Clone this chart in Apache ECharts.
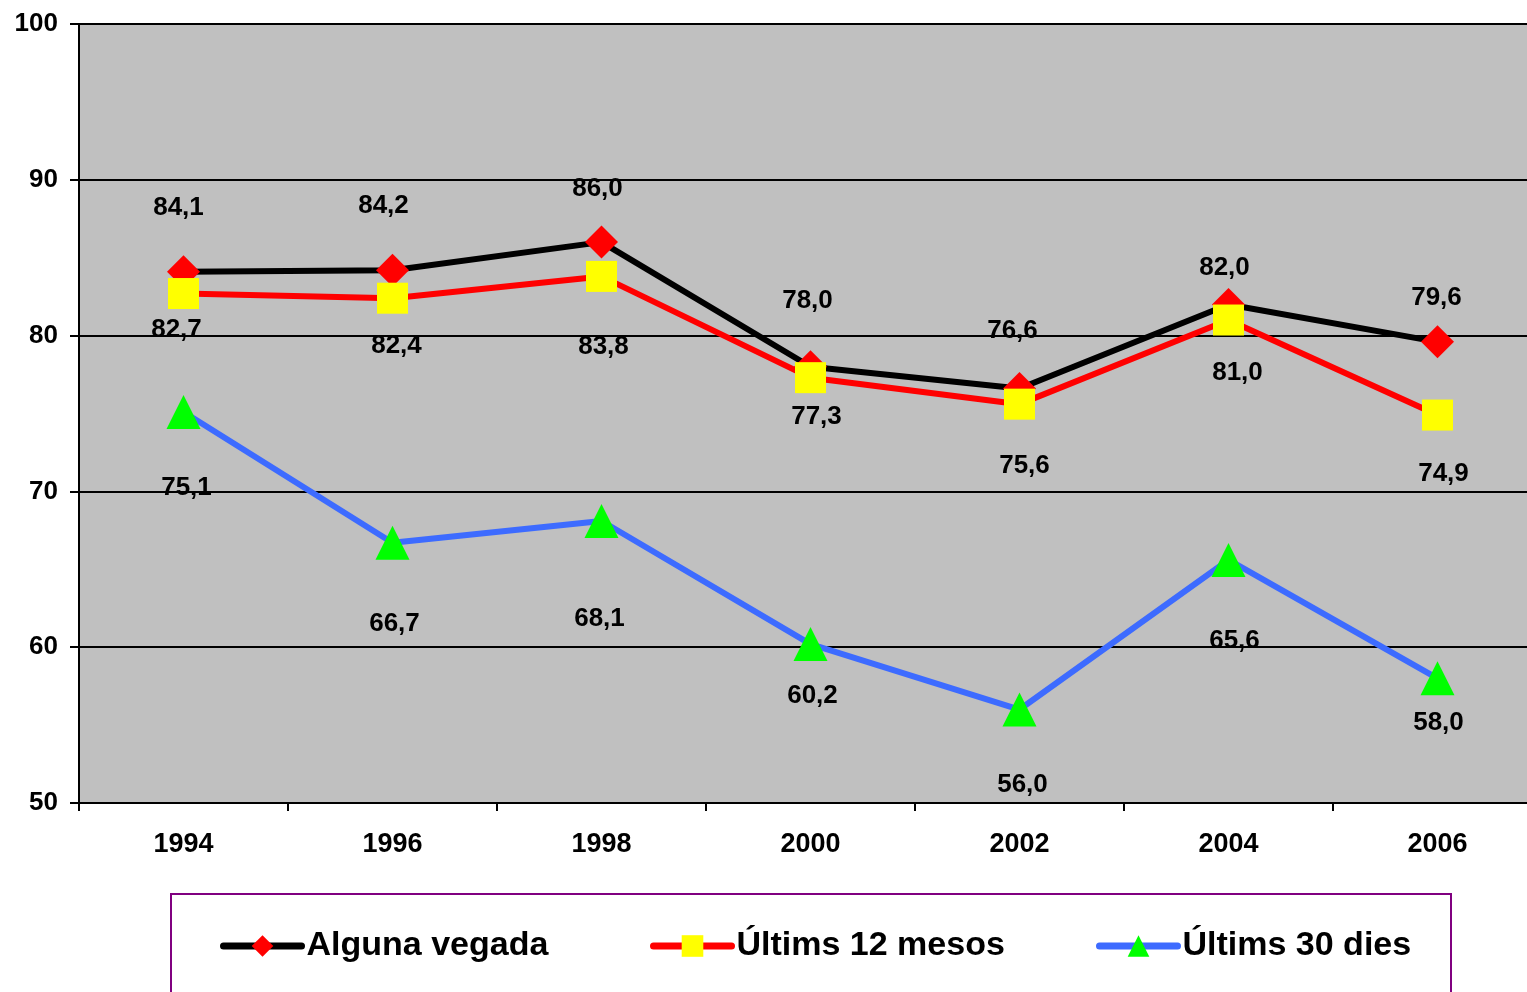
<!DOCTYPE html>
<html>
<head>
<meta charset="utf-8">
<script src="https://cdn.jsdelivr.net/npm/echarts@6/dist/echarts.min.js"></script>
<style>
html,body{margin:0;padding:0;background:#fff;overflow:hidden;width:1527px;height:992px;}
#chart{width:1542px;height:992px;}
</style>
</head>
<body>
<div id="chart"></div>
<script>
const categories = ['1994','1996','1998','2000','2002','2004','2006'];
const seriesNames = ['Alguna vegada','Últims 12 mesos','Últims 30 dies'];
const algunaVegada = [84.1, 84.2, 86.0, 78.0, 76.6, 82.0, 79.6];
const ultims12 = [82.7, 82.4, 83.8, 77.3, 75.6, 81.0, 74.9];
const ultims30 = [75.1, 66.7, 68.1, 60.2, 56.0, 65.6, 58.0];
const yTicks = [50, 60, 70, 80, 90, 100];

// label offsets (style only), [dx, dy] in pixels from the marker centre
const offsAV = [[-5,-64],[-9,-64],[-4,-53],[-3,-66],[-7,-58],[-4,-37],[-1,-44]];
const offs12 = [[-7,36],[4,48],[2,70],[6,39],[5,62],[9,53],[6,59]];
const offs30 = [[3,76],[2,81],[-2,98],[2,52],[3,75],[6,81],[1,44]];

const FONT = '"Liberation Sans", Arial, sans-serif';
const fmt = p => Number(p.value).toFixed(1).replace('.', ',');

function build(values, offs) {
  return values.map((v, i) => ({ value: v, label: { offset: offs[i] } }));
}
const labelStyle = {
  show: true, position: 'inside', formatter: fmt,
  color: '#000', fontFamily: FONT, fontWeight: 'bold', fontSize: 26
};

const chart = echarts.init(document.getElementById('chart'));
chart.setOption({
  backgroundColor: '#fff',
  animation: false,
  grid: {
    left: 79, top: 24, right: 0, bottom: 189,
    show: true, backgroundColor: '#C0C0C0', borderWidth: 0
  },
  xAxis: {
    type: 'category', data: categories, boundaryGap: true,
    axisLine: { lineStyle: { color: '#000', width: 2 } },
    axisTick: { show: true, length: 8, lineStyle: { color: '#000', width: 2 } },
    axisLabel: { margin: 28, color: '#000', fontFamily: FONT, fontWeight: 'bold', fontSize: 27 }
  },
  yAxis: {
    type: 'value', min: yTicks[0], max: yTicks[yTicks.length - 1], interval: 10,
    axisLine: { show: true, lineStyle: { color: '#000', width: 2 } },
    axisTick: { show: true, length: 9, lineStyle: { color: '#000', width: 2 } },
    axisLabel: { margin: 21, color: '#000', fontFamily: FONT, fontWeight: 'bold', fontSize: 26 },
    splitLine: { show: true, lineStyle: { color: '#000', width: 2 } }
  },
  graphic: [{
    type: 'rect', left: 170, top: 893, z: -1,
    shape: { width: 1280, height: 200 },
    style: { fill: '#fff', stroke: '#800080', lineWidth: 2 }
  }],
  legend: [
    { data: [seriesNames[0]], left: 220, top: 929 },
    { data: [seriesNames[1]], left: 650, top: 929 },
    { data: [seriesNames[2]], left: 1096, top: 929 }
  ].map(l => Object.assign(l, {
    itemWidth: 78, itemHeight: 27, itemGap: 0, padding: 0,
    lineStyle: { width: 7, cap: 'round' },
    textStyle: { color: '#000', fontFamily: FONT, fontWeight: 'bold', fontSize: 34 }
  })),
  series: [
    {
      name: seriesNames[0], type: 'line', data: build(algunaVegada, offsAV),
      symbol: 'diamond', symbolSize: 33,
      lineStyle: { color: '#000', width: 6 },
      itemStyle: { color: '#FF0000' },
      label: labelStyle
    },
    {
      name: seriesNames[1], type: 'line', data: build(ultims12, offs12),
      symbol: 'rect', symbolSize: 31,
      lineStyle: { color: '#FF0000', width: 6 },
      itemStyle: { color: '#FFFF00' },
      label: labelStyle
    },
    {
      name: seriesNames[2], type: 'line', data: build(ultims30, offs30),
      symbol: 'triangle', symbolSize: 34,
      lineStyle: { color: '#3D6BFF', width: 6 },
      itemStyle: { color: '#00FF00' },
      label: labelStyle
    }
  ]
});
</script>
</body>
</html>
